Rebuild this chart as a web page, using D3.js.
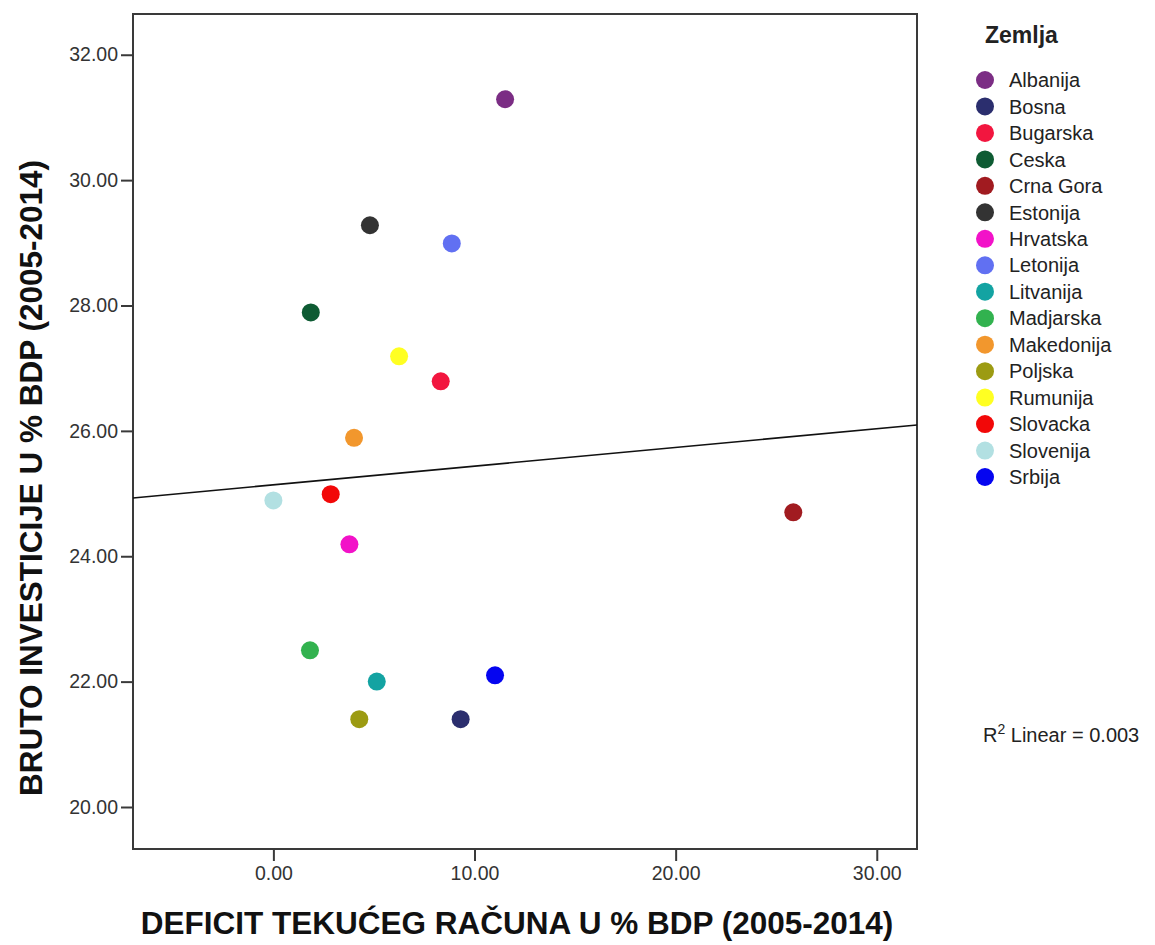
<!DOCTYPE html>
<html>
<head>
<meta charset="utf-8">
<script src="https://cdn.jsdelivr.net/npm/d3@7"></script>
<style>
  html, body { margin: 0; padding: 0; background: #ffffff; }
  svg { display: block; font-family: "Liberation Sans", Arial, sans-serif; }
</style>
</head>
<body>
<svg id="chart" width="1155" height="945"></svg>
<script>
// ---- Data ----
const countries = ["Albanija","Bosna","Bugarska","Ceska","Crna Gora","Estonija","Hrvatska","Letonija","Litvanija","Madjarska","Makedonija","Poljska","Rumunija","Slovacka","Slovenija","Srbija"];
const deficit   = [11.52, 9.31, 8.32, 1.86, 25.85, 4.80, 3.78, 8.87, 5.14, 1.82, 4.01, 4.27, 6.25, 2.85, 0.00, 11.02];
const investment= [31.29, 21.40, 26.79, 27.89, 24.70, 29.28, 24.19, 28.99, 22.00, 22.50, 25.89, 21.40, 27.19, 24.99, 24.89, 22.10];
const colors    = ["#7b2d84","#2b2e6e","#f2163f","#0e5b33","#a11b20","#333333","#f212c8","#6170f2","#13a3a2","#32b24f","#f2972d","#9c9b12","#ffff22","#f20808","#b2e0e2","#0505f0"];
const xTicks = [0, 10, 20, 30];
const yTicks = [20, 22, 24, 26, 28, 30, 32];
const xTitle = "DEFICIT TEKUĆEG RAČUNA U % BDP (2005-2014)";
const yTitle = "BRUTO INVESTICIJE U % BDP (2005-2014)";
const legendTitle = "Zemlja";
const r2Label = "0.003";

// ---- Layout ----
const svg = d3.select("#chart");
const L = 133, R = 917, T = 14, B = 849;

const x = d3.scaleLinear().domain([-6.98, 32.0]).range([L, R]);
const y = d3.scaleLinear().domain([19.33, 32.65]).range([B, T]);

// frame
svg.append("rect")
  .attr("x", L).attr("y", T).attr("width", R - L).attr("height", B - T)
  .attr("fill", "#ffffff").attr("stroke", "#3a3a3a").attr("stroke-width", 2);

// axes
const xAxis = d3.axisBottom(x).tickValues(xTicks).tickFormat(d3.format(".2f")).tickSize(12).tickPadding(5);
const yAxis = d3.axisLeft(y).tickValues(yTicks).tickFormat(d3.format(".2f")).tickSize(12).tickPadding(3);

const gx = svg.append("g").attr("transform", `translate(0,${B})`).call(xAxis);
const gy = svg.append("g").attr("transform", `translate(${L},0)`).call(yAxis);
[gx, gy].forEach(g => {
  g.select(".domain").remove();
  g.selectAll(".tick line").attr("stroke", "#3a3a3a").attr("stroke-width", 2);
  g.selectAll(".tick text").attr("fill", "#333").style("font-size", "19.5px")
    .style("font-family", "'Liberation Sans', Arial, sans-serif");
});

// regression line (least squares from data)
const n = deficit.length;
const mx = d3.mean(deficit), my = d3.mean(investment);
let sxy = 0, sxx = 0;
for (let i = 0; i < n; i++) { sxy += (deficit[i]-mx)*(investment[i]-my); sxx += (deficit[i]-mx)**2; }
const slope = sxy / sxx, intercept = my - slope * mx;
const [x0, x1] = x.domain();
svg.append("line")
  .attr("x1", x(x0)).attr("y1", y(intercept + slope * x0))
  .attr("x2", x(x1)).attr("y2", y(intercept + slope * x1))
  .attr("stroke", "#111").attr("stroke-width", 1.6);

// points
svg.append("g").selectAll("circle")
  .data(countries.map((c, i) => ({c, xv: deficit[i], yv: investment[i], col: colors[i]})))
  .join("circle")
  .attr("cx", d => x(d.xv)).attr("cy", d => y(d.yv))
  .attr("r", 9).attr("fill", d => d.col);

// axis titles
svg.append("text")
  .attr("x", 517).attr("y", 934)
  .attr("text-anchor", "middle")
  .style("font-size", "31.5px").style("font-weight", "bold").attr("fill", "#111")
  .text(xTitle);

svg.append("text")
  .attr("transform", "translate(42,478) rotate(-90)")
  .attr("text-anchor", "middle")
  .style("font-size", "31.5px").style("font-weight", "bold").attr("fill", "#111")
  .text(yTitle);

// legend
const lg = svg.append("g");
lg.append("text").attr("x", 985).attr("y", 43)
  .style("font-size", "23px").style("font-weight", "bold").attr("fill", "#222")
  .text(legendTitle);
const ly = d3.scalePoint().domain(countries).range([80, 477]);
const items = lg.selectAll("g.item").data(countries).join("g").attr("class", "item")
  .attr("transform", d => `translate(0,${ly(d)})`);
items.append("circle").attr("cx", 985).attr("cy", 0).attr("r", 9)
  .attr("fill", (d, i) => colors[i]);
items.append("text").attr("x", 1009).attr("y", 0).attr("dy", "0.36em")
  .style("font-size", "20px").attr("fill", "#222").text(d => d);

// R² annotation
const rt = svg.append("text").attr("x", 983).attr("y", 742)
  .style("font-size", "20px").attr("fill", "#222");
rt.append("tspan").text("R");
rt.append("tspan").attr("dy", "-8").style("font-size", "14px").text("2");
rt.append("tspan").attr("dy", "8").text(" Linear = " + r2Label);
</script>
</body>
</html>
